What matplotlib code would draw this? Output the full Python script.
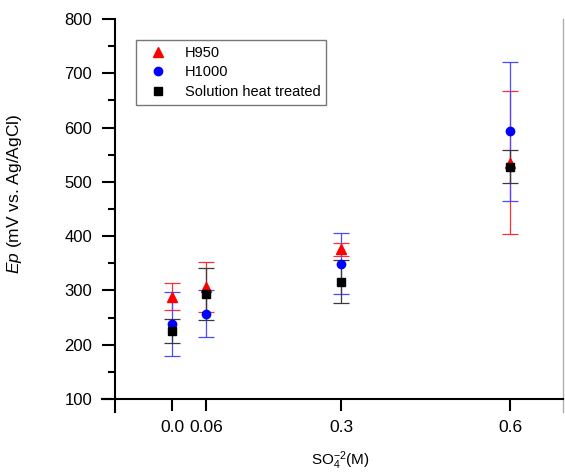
import matplotlib

matplotlib.use("Agg")
import matplotlib.pyplot as plt
from matplotlib.axes import Axes

plt.rcParams["font.family"] = ["Liberation Sans", "DejaVu Sans"]
plt.rcParams["mathtext.fontset"] = "custom"
plt.rcParams["mathtext.rm"] = "Liberation Sans"
plt.rcParams["mathtext.it"] = "Liberation Sans:italic"

# sulfate concentration (M)
so4 = [0.0, 0.06, 0.3, 0.6]
x_tick_labels = ["0.0", "0.06", "0.3", "0.6"]

# pitting potential (mV vs. Ag/AgCl) and error bars
h950 = [288, 307, 376, 535]
h950_err = [25, 46, 12, 132]
h1000 = [238, 257, 349, 593]
h1000_err = [59, 43, 56, 128]
sht = [225, 293, 316, 528]
sht_err = [22, 48, 40, 31]

fig = plt.figure(figsize=(5.65, 4.73), dpi=100)
ax: Axes = fig.add_axes([0.1805, 0.129, 0.816, 0.831])

series = [
    (h950, h950_err, "H950", "^", "#ff0000", "#ff3030", 7.5),
    (h1000, h1000_err, "H1000", "o", "#0000ff", "#4a4aff", 6),
    (sht, sht_err, "Solution heat treated", "s", "#000000", "#3a3a3a", 5.5),
]
for vals, errs, label, marker, color, ecolor, ms in series:
    ax.errorbar(
        so4, vals, yerr=errs, fmt="none", ecolor=ecolor,
        elinewidth=0.9, capsize=6, capthick=0.9, zorder=2,
    )
for vals, errs, label, marker, color, ecolor, ms in series:
    ax.plot(so4, vals, linestyle="none", marker=marker, color=color,
            markersize=ms, label=label, zorder=3)

ax.set_xlim(-0.1243, 0.694)
ax.set_ylim(76, 800)
ax.spines["left"].set_position(("data", -0.101))
ax.spines["bottom"].set_position(("data", 100))
ax.spines["top"].set_visible(False)
ax.spines["right"].set_color("#b0b0b0")
ax.spines["right"].set_linewidth(1)
for side in ["left", "bottom"]:
    ax.spines[side].set_linewidth(1.5)

ax.set_yticks(list(range(100, 801, 100)))
ax.set_yticks(list(range(150, 800, 100)), minor=True)
ax.set_xticks(so4)
ax.set_xticklabels(x_tick_labels)
ax.tick_params(axis="y", which="major", direction="out", length=9.5, width=1.5,
               labelsize=12, pad=7)
ax.tick_params(axis="y", which="minor", direction="out", length=5, width=1.5)
ax.tick_params(axis="x", which="major", direction="out", length=8.5, width=1.5,
               labelsize=12.5, pad=7)

ax.set_ylabel("$Ep$ (mV vs. Ag/AgCl)", fontsize=12.5)
ax.yaxis.set_label_coords(-0.17, 0.555)
ax.set_xlabel("SO$_4^{-2}$(M)", fontsize=11)
ax.xaxis.set_label_coords(0.516, -0.094)

leg = ax.legend(
    loc="upper left", bbox_to_anchor=(0.0738, 0.9466), borderaxespad=0,
    fontsize=10.5, frameon=True, fancybox=False, edgecolor="#555555",
    handletextpad=0.75, labelspacing=0.38, borderpad=0.4, handlelength=2.2,
)
leg.get_frame().set_linewidth(1)

plt.savefig("out.png", dpi=100)
